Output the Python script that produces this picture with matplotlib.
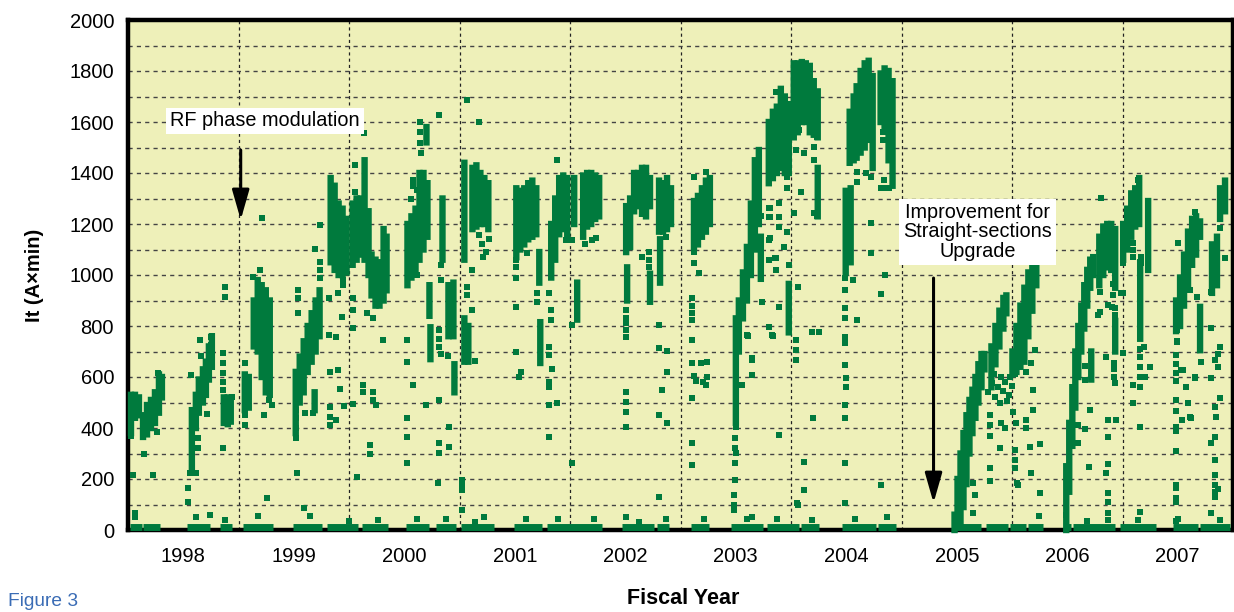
import matplotlib
matplotlib.use("Agg")
from matplotlib import pyplot as plt
from matplotlib.ticker import FixedLocator, MultipleLocator, NullFormatter

plt.rcParams['font.family'] = ['Liberation Sans', 'DejaVu Sans']

GREEN = '#007a3d'

# dense runs of samples: (fiscal year, lowest It, highest It)
strip_year = [
    # FY1998
    1998.027, 1998.063, 1998.099, 1998.136, 1998.172, 1998.208, 1998.244, 1998.280, 1998.307,
    1998.578, 1998.614, 1998.641, 1998.678, 1998.705, 1998.732, 1998.759,
    1998.867, 1998.903, 1998.930,
    # FY1999
    1999.057, 1999.093, 1999.138, 1999.174, 1999.210, 1999.247, 1999.283,
    1999.518, 1999.554, 1999.590, 1999.626, 1999.662, 1999.698, 1999.734, 1999.689,
    1999.834, 1999.870, 1999.906, 1999.942, 1999.978,
    # FY2000
    2000.033, 2000.069, 2000.105, 2000.141, 2000.177,
    2000.204, 2000.240, 2000.276, 2000.313, 2000.340,
    2000.529, 2000.565, 2000.602, 2000.638, 2000.674, 2000.710, 2000.701,
    2000.728, 2000.737, 2000.846, 2000.900, 2000.945, 2000.954,
    # FY2001
    2001.044, 2001.117, 2001.153, 2001.189, 2001.225, 2001.261, 2001.044, 2001.080,
    2001.514, 2001.550, 2001.586, 2001.622, 2001.659, 2001.695, 2001.722, 2001.731,
    2001.830, 2001.866, 2001.902, 2001.939, 2001.975,
    # FY2002
    2002.038, 2002.065, 2002.119, 2002.155, 2002.192, 2002.228, 2002.264,
    2002.508, 2002.544, 2002.580, 2002.616, 2002.652, 2002.688, 2002.724, 2002.517, 2002.724,
    2002.806, 2002.842, 2002.878, 2002.914, 2002.815,
    # FY2003
    2003.122, 2003.158, 2003.194, 2003.230, 2003.266,
    2003.501, 2003.528, 2003.565, 2003.601, 2003.637, 2003.673, 2003.709, 2003.727,
    2003.799, 2003.836, 2003.872, 2003.908, 2003.944, 2003.980, 2003.980,
    # FY2004
    2004.025, 2004.061, 2004.098, 2004.134, 2004.170, 2004.206, 2004.242, 2004.242,
    2004.495, 2004.540, 2004.531, 2004.567, 2004.594, 2004.630, 2004.667, 2004.703, 2004.739,
    2004.811, 2004.847, 2004.883, 2004.919,
    # FY2005
    2005.480, 2005.507, 2005.534, 2005.561, 2005.588, 2005.615, 2005.642, 2005.669,
    2005.696, 2005.724, 2005.751, 2005.814, 2005.850, 2005.886, 2005.922, 2005.949,
    # FY2006
    2006.004, 2006.040, 2006.076, 2006.112, 2006.148, 2006.184, 2006.220,
    2006.491, 2006.518, 2006.546, 2006.573, 2006.600, 2006.627, 2006.654, 2006.681,
    2006.708, 2006.735, 2006.717, 2006.790, 2006.826, 2006.862, 2006.898, 2006.934, 2006.934,
    # FY2007
    2007.006, 2007.042, 2007.079, 2007.115, 2007.151, 2007.232, 2007.160,
    2007.485, 2007.521, 2007.557, 2007.593, 2007.630, 2007.666, 2007.702, 2007.702,
    2007.810, 2007.855, 2007.883, 2007.928,
]
strip_lo = [
    380, 440, 450, 365, 375, 400, 420, 460, 520,
    245, 400, 460, 500, 530, 590, 640,
    420, 415, 425,
    470, 480, 720, 700, 600, 540, 530,
    380, 500, 540, 620, 660, 700, 760, 470,
    1050, 1020, 1000, 1000, 1010,
    1040, 1060, 1080, 1060, 1000,
    920, 880, 880, 900, 940,
    960, 990, 1020, 1060, 1100, 1150, 1520,
    840, 670, 1060, 760, 760, 540,
    1060, 1180, 1190, 1200, 1200, 1180, 660, 660,
    1070, 1100, 1120, 1140, 1150, 1160, 970, 655,
    990, 1060, 1160, 1180, 1160,
    1200, 825, 1150, 1190, 1200, 1220, 1230,
    1090, 1110, 1250, 1270, 1240, 1230, 1270, 900, 895,
    1170, 1170, 1180, 1200, 970,
    1110, 1120, 1150, 1170, 1200,
    420, 700, 830, 900, 1000, 1100, 1200, 985,
    1360, 1380, 1400, 1420, 1400, 1400, 775,
    1540, 1560, 1600, 1600, 1560, 1550, 1540, 1230,
    1010, 1050, 1440, 1450, 1460, 1480, 1500, 1530, 1420,
    1600, 1580, 1450, 1350,
    0, 10, 25, 90, 180, 300, 380, 440,
    500, 560, 630, 560, 650, 720, 790, 850,
    610, 620, 640, 660, 760, 860, 960,
    0, 150, 330, 480, 600, 700, 790, 880,
    950, 1000, 590, 960, 1000, 1030, 1020, 950, 700,
    1060, 1100, 1150, 1190, 1200, 1020, 750,
    780, 800, 880, 960, 1040, 1080, 1150, 705,
    930, 960, 1220, 1250,
]
strip_hi = [
    530, 530, 520, 450, 490, 510, 540, 610, 600,
    470, 530, 590, 630, 660, 720, 760,
    520, 520, 500,
    610, 600, 900, 980, 960, 940, 900,
    620, 680, 740, 800, 850, 900, 940, 540,
    1380, 1350, 1280, 1260, 1220,
    1280, 1300, 1300, 1450, 1250,
    1080, 1060, 1050, 1180, 1150,
    1200, 1230, 1260, 1400, 1400, 1360, 1580,
    960, 795, 1300, 960, 970, 650,
    1440, 1420, 1430, 1400, 1380, 1360, 830, 800,
    1340, 1330, 1340, 1360, 1370, 1340, 1090, 815,
    1200, 1300, 1380, 1390, 1380,
    1380, 970, 1390, 1400, 1400, 1390, 1380,
    1270, 1300, 1400, 1400, 1420, 1420, 1380, 1030, 1005,
    1370, 1360, 1380, 1340, 1140,
    1290, 1310, 1340, 1370, 1380,
    830, 900, 1010, 1110, 1280, 1450, 1490, 1150,
    1600, 1640, 1660, 1730, 1700, 1670, 965,
    1830, 1830, 1835, 1830, 1820, 1760, 1720, 1420,
    1330, 1340, 1640, 1700, 1740, 1800, 1830, 1840, 1780,
    1790, 1810, 1800, 1760,
    60, 200, 300, 380, 450, 510, 550, 600,
    650, 690, 690, 720, 800, 860, 910, 920,
    700, 800, 880, 950, 1010, 1060, 1100,
    250, 420, 560, 700, 800, 880, 960, 1020,
    1060, 1070, 700, 1150, 1190, 1200, 1200, 1180, 820,
    1200, 1260, 1320, 1340, 1380, 1290, 1050,
    900, 990, 1080, 1170, 1220, 1230, 1210, 875,
    1120, 1150, 1340, 1370,
]

# single scattered samples: (fiscal year, It)
dot_year = [
    1998.027, 1998.027, 1998.027, 1998.045, 1998.063, 1998.145, 1998.226, 1998.262, 1998.271,
    1998.542, 1998.542, 1998.560, 1998.614, 1998.632, 1998.632, 1998.714, 1998.569, 1998.659,
    1998.650, 1998.750, 1998.750, 1998.858, 1998.939, 1998.858, 1998.858, 1998.858, 1998.858,
    1998.858, 1998.876, 1998.876, 1999.256,
    1999.057, 1999.057, 1999.057, 1999.192, 1999.129, 1999.210, 1999.229, 1999.274, 1999.301,
    1999.518, 1999.518, 1999.518, 1999.518, 1999.527, 1999.590, 1999.536, 1999.536, 1999.536,
    1999.734, 1999.689, 1999.734, 1999.734, 1999.734, 1999.599, 1999.671,
    1999.825, 1999.897, 1999.825, 1999.825, 1999.879, 1999.825, 1999.915, 1999.933, 1999.951,
    1999.816, 1999.879, 1999.816, 1999.897, 1999.942, 1999.942,
    2000.132, 2000.051, 2000.051, 2000.033, 2000.033, 2000.033, 2000.159, 2000.213, 2000.304,
    2000.123, 2000.123, 2000.213, 2000.213, 2000.240, 2000.033, 2000.186, 2000.186, 2000.069,
    2000.647, 2000.647, 2000.647, 2000.656, 2000.575, 2000.575, 2000.565, 2000.611,
    2000.818, 2001.071, 2001.180,
    2000.529, 2000.529, 2000.575, 2000.529, 2000.529, 2000.529, 2000.701, 2000.818, 2000.818,
    2000.818, 2000.909, 2000.909, 2000.809, 2000.818, 2000.818, 2000.818, 2000.836, 2000.836,
    2000.836, 2000.900, 2000.611,
    2001.180, 2001.207, 2001.243, 2001.216, 2001.270,
    2001.071, 2001.071, 2001.117, 2001.117, 2001.144, 2001.026, 2001.026, 2001.026, 2001.026,
    2001.144,
    2001.514, 2001.514, 2001.514, 2001.514, 2001.514, 2001.541, 2001.559, 2001.613,
    2001.704, 2001.704,
    2001.884, 2001.812, 2001.830, 2001.830, 2001.812, 2001.812, 2001.839, 2001.812, 2001.812,
    2001.812, 2001.884, 2001.812, 2002.020, 2001.966,
    2002.020, 2002.020, 2002.201, 2002.237, 2002.137,
    2002.508, 2002.508, 2002.508, 2002.508, 2002.508, 2002.508, 2002.508, 2002.508, 2002.508,
    2002.508, 2002.715, 2002.715, 2002.715, 2002.652,
    2002.806, 2002.806, 2002.878, 2002.878, 2002.833, 2002.806, 2002.878, 2002.806, 2002.869,
    2003.122, 2003.230, 2003.122, 2003.122, 2003.167, 2003.104, 2003.104, 2003.104, 2003.104,
    2003.104, 2003.104, 2003.185, 2003.239, 2003.122, 2003.140, 2003.203, 2003.230, 2003.239,
    2003.104, 2003.104, 2003.104,
    2003.501, 2003.492, 2003.492, 2003.501, 2003.492, 2003.492, 2003.483, 2003.483, 2003.483,
    2003.727, 2003.799, 2003.799, 2003.799, 2003.799, 2003.863, 2003.863, 2003.736, 2003.890,
    2003.799, 2003.827, 2003.601, 2003.646, 2003.646, 2003.556, 2003.890, 2003.646, 2004.052,
    2003.610, 2003.646,
    2003.863, 2003.890, 2003.890, 2003.890, 2003.962, 2003.962, 2003.962, 2003.935, 2003.980,
    2003.854, 2003.808, 2003.808, 2003.808, 2003.836, 2003.980, 2003.980,
    2004.043, 2004.070, 2004.116, 2004.206, 2004.206, 2004.233, 2004.206, 2004.233, 2004.043,
    2004.043, 2004.043, 2004.088, 2004.061, 2004.025, 2004.116, 2004.116, 2004.061, 2004.188,
    2004.197, 2004.251,
    2004.829, 2004.829, 2004.847, 2004.811, 2004.811, 2004.838, 2004.811, 2004.856, 2004.883,
    2004.594, 2004.594, 2004.676, 2004.721, 2004.721, 2004.721,
    2004.486, 2004.486, 2004.486, 2004.486, 2004.486, 2004.486, 2004.486, 2004.495, 2004.495,
    2004.486, 2004.486, 2004.486, 2004.486, 2004.558, 2004.594,
    2005.805, 2005.805, 2005.805,
    2005.787, 2005.823, 2005.850, 2005.877, 2005.904, 2005.922, 2005.940, 2005.976, 2006.004,
    2006.031, 2005.895, 2005.841, 2005.958, 2005.986,
    2005.651, 2005.669, 2005.651, 2005.805, 2005.805, 2005.904, 2005.940, 2005.895, 2006.031,
    2006.031, 2006.013, 2006.040, 2006.130, 2006.130, 2006.058, 2006.175, 2006.257, 2006.166,
    2006.257, 2006.193, 2006.193, 2006.211, 2006.175, 2006.130, 2006.031, 2006.049,
    2006.799, 2006.799, 2006.871, 2006.916, 2006.916, 2006.934, 2006.934, 2006.663, 2006.663,
    2006.708, 2006.600, 2006.663, 2006.600, 2006.699, 2006.681, 2006.871, 2006.871, 2006.871,
    2006.853, 2006.871, 2006.871, 2006.871, 2006.853, 2006.943, 2006.934, 2006.780, 2006.907,
    2006.808, 2006.925, 2006.925, 2006.925,
    2007.006, 2007.006, 2007.097, 2007.097, 2007.097, 2007.169, 2007.169, 2007.250, 2007.205,
    2007.196, 2007.097, 2007.097, 2007.160, 2007.160, 2006.988, 2007.006, 2007.142,
    2007.160, 2007.160, 2007.160, 2007.160, 2007.160,
    2007.657, 2007.503, 2007.494, 2007.485, 2007.485, 2007.485, 2007.485, 2007.485, 2007.485,
    2007.485, 2007.485, 2007.494, 2007.494, 2007.485, 2007.485, 2007.485, 2007.485, 2007.485,
    2007.485,
    2007.539, 2007.612, 2007.530, 2007.612, 2007.657, 2007.548, 2007.575, 2007.593, 2007.621,
    2007.675,
    2007.883, 2007.928, 2007.801, 2007.801, 2007.837, 2007.864, 2007.883, 2007.864, 2007.801,
    2007.837, 2007.883, 2007.846, 2007.801, 2007.837, 2007.837, 2007.837, 2007.837, 2007.837,
    2007.837, 2007.801, 2007.864, 2007.657, 2007.711,
    # short bumps just above zero
    1998.063, 1998.614, 1998.741, 1998.876, 1999.174, 1999.644, 1999.996, 2000.258, 2000.611,
    2000.882, 2001.225, 2001.604, 2001.893, 2002.219, 2002.625, 2002.869, 2003.212, 2003.601,
    2003.872, 2004.188, 2004.576, 2004.865, 2005.516, 2006.248, 2006.491, 2006.871, 2007.142,
    2007.503, 2007.883,
]
dot_it = [
    420, 395, 370, 215, 66, 298, 215, 384, 614,
    165, 110, 223, 223, 360, 322, 455, 608, 682,
    745, 725, 757, 322, 522, 694, 655, 616, 580,
    549, 914, 953, 125,
    655, 450, 412, 1020, 992, 1224, 451, 510, 490,
    470, 440, 400, 360, 223, 86, 941, 910, 851,
    1196, 1102, 1050, 1020, 990, 459, 459,
    620, 627, 482, 443, 431, 412, 553, 835, 486,
    765, 757, 910, 930, 960, 980,
    1557, 1431, 1325, 910, 863, 792, 851, 831, 745,
    568, 541, 541, 510, 490, 494, 333, 300, 208,
    1600, 1561, 1518, 1478, 1350, 1372, 1300, 1333,
    1627, 1686, 1600,
    745, 659, 569, 439, 365, 263, 490, 510, 341,
    302, 326, 404, 184, 784, 750, 718, 690, 1039,
    980, 682, 1000,
    1157, 1120, 1090, 1070, 1140,
    953, 921, 863, 1020, 663, 196, 176, 157, 78,
    31,
    1059, 1030, 990, 875, 698, 600, 620, 1086,
    929, 894,
    1451, 929, 863, 823, 718, 686, 631, 580, 561,
    490, 500, 365, 263, 1137,
    1137, 804, 1137, 1145, 1120,
    863, 831, 810, 784, 757, 541, 502, 463, 404,
    51, 1031, 1059, 1090, 1070,
    804, 714, 702, 620, 549, 451, 420, 129, 1149,
    1384, 1404, 1090, 1047, 1008, 910, 880, 850, 823,
    745, 655, 655, 659, 604, 584, 580, 570, 600,
    517, 341, 255,
    404, 361, 322, 302, 263, 196, 137, 98, 78,
    1230, 1227, 1263, 1137, 1059, 1020, 1067, 894, 875,
    796, 765, 765, 675, 608, 569, 372, 51, 104,
    761, 667,
    1718, 1227, 1282, 1188, 1341, 1384, 1169, 1110, 1039,
    1067, 1145, 1227, 1263, 761, 914, 940,
    1490, 1569, 1478, 1502, 1451, 1541, 1243, 1230, 667,
    706, 745, 1325, 953, 1243, 267, 157, 98, 776,
    439, 776,
    1529, 1561, 1000, 925, 176, 1372, 1340, 1340, 1340,
    1365, 1404, 1400, 1384, 1204, 1086,
    941, 988, 831, 871, 733, 757, 647, 561, 596,
    490, 439, 263, 106, 980, 823,
    370, 410, 450,
    540, 575, 520, 560, 600, 545, 580, 530, 565,
    610, 500, 610, 505, 600,
    184, 137, 67, 243, 192, 420, 400, 322, 243,
    275, 463, 420, 400, 431, 176, 223, 145, 326,
    337, 471, 549, 706, 655, 620, 314, 184,
    933, 855, 882, 921, 965, 843, 870, 643, 588,
    471, 412, 396, 341, 247, 35, 431, 365, 259,
    223, 145, 110, 67, 678, 431, 576, 843, 875,
    1302, 600, 630, 655,
    1047, 929, 1070, 1100, 1125, 1047, 1070, 639, 600,
    718, 569, 498, 404, 71, 929, 694, 1372,
    710, 680, 640, 600, 560,
    1247, 1125, 737, 686, 651, 616, 510, 404, 176,
    110, 35, 784, 741, 584, 467, 388, 310, 165,
    125,
    431, 443, 627, 941, 596, 627, 560, 500, 439,
    914,
    1184, 1067, 933, 792, 667, 690, 718, 639, 596,
    482, 518, 443, 341, 365, 275, 216, 176, 150,
    129, 67, 161, 600, 659,
    50, 50, 60, 40, 55, 55, 35, 40, 45,
    45, 50, 45, 45, 45, 30, 45, 45, 45,
    45, 40, 45, 50, 30, 55, 60, 40, 40,
    45, 40,
]

# stretches where the stored beam sat at zero: start and end of each run
zero_start = [
    1998.018, 1998.136, 1998.533, 1998.831, 1999.039, 1999.491, 1999.798, 2000.114, 2000.520,
    2000.791, 2001.017, 2001.496, 2001.794, 2002.472, 2002.788, 2003.095, 2003.460, 2003.781,
    2004.088, 2004.459, 2004.784, 2005.471, 2005.769, 2005.986, 2006.148, 2006.482, 2006.555,
    2006.979, 2007.458, 2007.702,
]
zero_end = [
    1998.126, 1998.289, 1998.741, 1998.939, 1999.310, 1999.752, 2000.078, 2000.349, 2000.728,
    2000.972, 2001.315, 2001.749, 2002.291, 2002.760, 2002.896, 2003.258, 2003.749, 2004.070,
    2004.251, 2004.766, 2004.947, 2005.715, 2005.968, 2006.130, 2006.284, 2006.537, 2006.934,
    2007.305, 2007.684, 2007.973,
]

years = list(range(1998, 2008))

fig = plt.figure(figsize=(12.34, 6.12), dpi=100)
ax = fig.add_axes([128 / 1234, 82 / 612, (1233 - 128) / 1234, (592 - 82) / 612])
ax.set_facecolor('#eef0b9')
ax.set_xlim(1998, 2008)
ax.set_ylim(0, 2000)

# year boundaries carry the grid, labels sit in the middle of each year
ax.xaxis.set_major_locator(FixedLocator(years[1:]))
ax.xaxis.set_major_formatter(NullFormatter())
ax.xaxis.set_minor_locator(FixedLocator([y + 0.5 for y in years]))
ax.set_xticklabels([str(y) for y in years], minor=True)
ax.yaxis.set_major_locator(MultipleLocator(200))
ax.yaxis.set_minor_locator(MultipleLocator(100))
ax.tick_params(which='both', length=0, labelsize=14.5)
ax.tick_params(axis='y', pad=10)
ax.tick_params(axis='x', which='minor', pad=12)

ax.grid(axis='x', which='major', color='#222222', linestyle=(0, (2.5, 2.5)), linewidth=0.9)
ax.grid(axis='y', which='both', color='#444444', linestyle=(0, (3, 3)), linewidth=1.0)
ax.set_axisbelow(True)

for sp in ax.spines.values():
    sp.set_linewidth(3.2)
    sp.set_color('black')

runs = ax.vlines(strip_year, strip_lo, strip_hi, colors=GREEN, linewidth=4.6, zorder=3,
                 clip_on=False)
runs.set_capstyle('projecting')
runs.set_snap(False)
ax.scatter(dot_year, dot_it, marker='s', s=16, c=GREEN, linewidths=0, zorder=3,
           clip_on=False)
ax.hlines([12] * len(zero_start), zero_start, zero_end, colors=GREEN, linewidth=5,
          zorder=3, clip_on=False)

box = dict(boxstyle='square,pad=0.2', fc='white', ec='none')
ax.text(1999.24, 1604, 'RF phase modulation', ha='center', va='center', fontsize=14.3,
        bbox=box, zorder=5)
ax.annotate('', xy=(1999.02, 1216), xytext=(1999.02, 1490),
            arrowprops=dict(arrowstyle='-|>,head_length=1.4,head_width=0.4', color='black',
                            lw=2.2, mutation_scale=13, shrinkA=0, shrinkB=0), zorder=5)

ax.text(2005.69, 1169, 'Improvement for\nStraight-sections\nUpgrade', ha='center',
        va='center', multialignment='center', fontsize=14.3, linespacing=1.05, bbox=box,
        zorder=5)
ax.annotate('', xy=(2005.29, 106), xytext=(2005.29, 988),
            arrowprops=dict(arrowstyle='-|>,head_length=1.4,head_width=0.4', color='black',
                            lw=2.2, mutation_scale=13, shrinkA=0, shrinkB=0), zorder=5)

fig.text(35 / 1234, 1 - 275 / 612, 'It (A\u00d7min)', rotation=90, ha='center', va='center',
         fontsize=14.5, fontweight='bold')
fig.text(683 / 1234, 1 - 598 / 612, 'Fiscal Year', ha='center', va='center',
         fontsize=15.5, fontweight='bold')
fig.text(8 / 1234, 1 - 601 / 612, 'Figure 3', ha='left', va='center', fontsize=13.8,
         color='#3a6cb5')

fig.savefig('out.png', dpi=100)
